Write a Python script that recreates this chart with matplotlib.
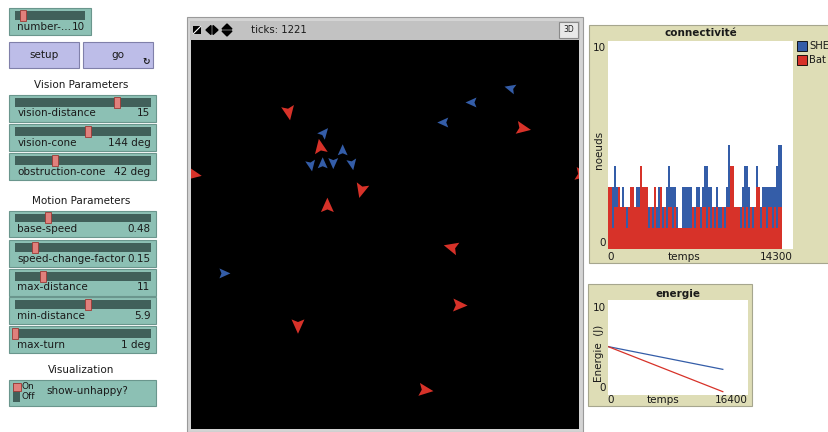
import numpy as np
import matplotlib
matplotlib.use("Agg")
import matplotlib.pyplot as plt
from matplotlib.patches import Rectangle, Polygon

W, H = 829, 432

# ---- interface values ----
number_name, number_value, number_min, number_max = "number-...", 10, 0, 90

slider_names = ["vision-distance", "vision-cone", "obstruction-cone",
                "base-speed", "speed-change-factor", "max-distance",
                "min-distance", "max-turn"]
slider_values = [15, 144, 42, 0.48, 0.15, 11, 5.9, 1]
slider_units = ["", " deg", " deg", "", "", "", "", " deg"]
slider_min = [0, 0, 0, 0, 0, 1, 0, 1]
slider_max = [20, 270, 144, 2, 1, 50, 11, 45]

ticks = 1221

# ---- connectivity plot (bar pens) ----
conn_interval = 155
conn_xmax, conn_ymax = 14300, 10
she_conn = [2, 2, 3, 4, 3, 2, 2, 3, 2, 2,
            2, 2, 2, 2, 3, 3, 2, 2, 2, 2,
            2, 2, 2, 3, 2, 3, 2, 2, 2, 3,
            4, 3, 3, 3, 2, 1, 1, 3, 3, 3,
            3, 3, 2, 2, 3, 3, 2, 3, 4, 4,
            3, 3, 2, 2, 3, 2, 2, 2, 2, 3,
            5, 4, 2, 2, 2, 2, 2, 3, 4, 4,
            3, 2, 2, 2, 4, 3, 2, 3, 3, 3,
            3, 3, 3, 3, 4, 5, 5]
bat_conn = [3, 3, 1, 2, 2, 3, 2, 2, 2, 1,
            2, 3, 3, 2, 2, 2, 4, 3, 3, 3,
            1, 2, 1, 3, 1, 1, 3, 1, 2, 1,
            2, 2, 1, 2, 1, 1, 1, 1, 1, 1,
            1, 1, 2, 1, 2, 2, 1, 2, 2, 1,
            2, 1, 2, 1, 2, 1, 1, 2, 1, 2,
            2, 4, 4, 2, 2, 2, 1, 2, 1, 2,
            1, 2, 1, 2, 3, 3, 1, 2, 2, 1,
            2, 2, 1, 2, 1, 2, 2]

# ---- energy plot ----
en_xmax, en_ymax = 16400, 10
en_time = [0, 13450]
she_energy = [5.1, 2.7]
bat_energy = [5.1, 0.35]

# ---- turtles (world coords, heading in degrees) ----
red_x = [-8.2, -5.5, -16.3, -2.0, -4.9, 11.7, 5.7, 6.3, -7.4, 3.4]
red_y = [10.4, 7.4, 5.1, 3.8, 2.4, 9.0, -1.1, -6.0, -7.7, -13.2]
red_heading = [170, 350, 100, 195, 0, 100, 285, 92, 180, 97]
blue_x = [-5.2, -3.6, -6.3, -5.3, -4.4, -2.8, 7.4, 10.7, 5.0, -13.7]
blue_y = [8.6, 7.1, 5.9, 6.0, 6.1, 6.0, 11.2, 12.4, 9.5, -3.3]
blue_heading = [40, 0, 170, 0, 180, 170, 270, 285, 270, 90]

RED = "#D73229"
BLUE = "#345DA8"
slider_bg, slider_edge = "#8CC0B4", "#6A968D"
track_c, handle_c, handle_edge = "#41605A", "#E0807C", "#9C3A36"
button_bg, button_edge = "#BDBDE8", "#8080AA"
plot_bg, plot_edge = "#DEDDB6", "#A6A68E"

fig = plt.figure(figsize=(W / 100, H / 100), dpi=100)
fig.patch.set_facecolor("white")
bg = fig.add_axes([0, 0, 1, 1])
bg.set_xlim(0, W)
bg.set_ylim(H, 0)
bg.axis("off")


def frac(x0, y0, x1, y1):
    return [x0 / W, 1 - y1 / H, (x1 - x0) / W, (y1 - y0) / H]


def box(x0, y0, x1, y1, fc, ec="none", lw=0.8, z=1):
    bg.add_patch(Rectangle((x0, y0), x1 - x0, y1 - y0, facecolor=fc,
                           edgecolor=ec, linewidth=lw, zorder=z))


def txt(x, y, s, ha="left", size=7.5, **kw):
    bg.text(x, y, s, ha=ha, va="center", fontsize=size, color="#1a1a1a", zorder=5, **kw)


def slider(y0, name, value, unit, vmin, vmax, x0=9.5, x1=156.5):
    box(x0, y0, x1, y0 + 26.5, slider_bg, ec=slider_edge)
    tx0, tx1 = x0 + 5.5, x1 - 5.5
    box(tx0, y0 + 2.8, tx1, y0 + 11.5, track_c)
    cx = tx0 + (value - vmin) / (vmax - vmin) * (tx1 - tx0)
    box(cx - 3, y0 + 1.5, cx + 3, y0 + 12.5, handle_c, ec=handle_edge, lw=0.6, z=2)
    txt(x0 + 7.8, y0 + 18.5, name)
    txt(x1 - 6, y0 + 18.5, f"{value:g}{unit}", ha="right")


# number slider
slider(8.3, number_name, number_value, "", number_min, number_max, x1=91)

# buttons
box(9.5, 41.7, 79, 68.3, button_bg, ec=button_edge)
txt(44, 55.5, "setup", ha="center")
box(83.3, 41.7, 153.3, 68.3, button_bg, ec=button_edge)
txt(118, 55.5, "go", ha="center")
txt(146, 62, "\u21bb", ha="center", size=6.5, weight="bold")

txt(81.5, 85, "Vision Parameters", ha="center")
for i, top in enumerate([95, 124.3, 153.3]):
    slider(top, slider_names[i], slider_values[i], slider_units[i],
           slider_min[i], slider_max[i])

txt(81.5, 200.7, "Motion Parameters", ha="center")
for i, top in zip(range(3, 8), [210.7, 240, 269, 297.3, 326]):
    slider(top, slider_names[i], slider_values[i], slider_units[i],
           slider_min[i], slider_max[i])

txt(81.5, 370, "Visualization", ha="center")
box(9.5, 380, 156.5, 406, slider_bg, ec=slider_edge)
box(13.5, 383, 20.5, 402, track_c)
box(12.8, 382.5, 21.2, 390.5, handle_c, ec=handle_edge, lw=0.6, z=2)
txt(22, 386.5, "On", size=6.5)
txt(22, 396.5, "Off", size=6.5)
txt(46, 390.5, "show-unhappy?")

# ---- world view ----
box(187, 17, 583, 432, "#D4D4D4", ec="#9A9A9A")
box(190, 20.5, 580, 40, "#C2C2C2")
box(193, 26, 201, 34, "black")
bg.plot([193.5, 200.5], [33.5, 26.5], color="white", lw=0.8, zorder=3)
bg.add_patch(Polygon([[211, 25.5], [211, 34.5], [206, 30]], color="black", zorder=3))
bg.add_patch(Polygon([[213, 25.5], [213, 34.5], [218, 30]], color="black", zorder=3))
bg.add_patch(Polygon([[222, 29], [232, 29], [227, 24]], color="black", zorder=3))
bg.add_patch(Polygon([[222, 31], [232, 31], [227, 36]], color="black", zorder=3))
txt(251, 30, f"ticks: {ticks}", size=7.3)
box(559, 22, 578, 38, "#E8E8E8", ec="#8A8A8A")
txt(568.5, 30, "3D", ha="center", size=5.5)

world = fig.add_axes(frac(191, 40, 579, 429))
world.set_facecolor("black")
world.set_xlim(-16.5, 16.5)
world.set_ylim(-16.5, 16.5)
world.set_xticks([])
world.set_yticks([])
for s in world.spines.values():
    s.set_visible(False)

arrow = np.array([[0, 0.483], [-0.367, -0.333], [0, -0.183], [0.367, -0.333]])


def draw_turtle(x, y, heading, size, color):
    h = np.radians(heading)
    rot = np.array([[np.cos(h), np.sin(h)], [-np.sin(h), np.cos(h)]])
    pts = arrow @ rot.T * size
    # world wraps, so draw the copies too
    for dx in (-33, 0, 33):
        for dy in (-33, 0, 33):
            world.add_patch(Polygon(pts + [x + dx, y + dy], closed=True,
                                    facecolor=color, edgecolor="none"))


for x, y, hd in zip(blue_x, blue_y, blue_heading):
    draw_turtle(x, y, hd, 1.15, BLUE)
for x, y, hd in zip(red_x, red_y, red_heading):
    draw_turtle(x, y, hd, 1.5, RED)

# ---- connectivity plot ----
box(589, 25, 845, 263, plot_bg, ec=plot_edge)
txt(700.5, 33.5, "connectivit\u00e9", ha="center", weight="bold")
txt(606, 48, f"{conn_ymax:g}", ha="right")
txt(606, 243, "0", ha="right")
txt(599, 150, "noeuds", ha="center", rotation=90)
txt(607, 256.5, "0")
txt(793, 256.5, f"{conn_xmax:g}", ha="right")
txt(684, 256.5, "temps", ha="center")
box(797, 41, 807, 51, BLUE, ec="black", lw=0.6)
txt(809, 46, "SHE", size=7.2)
box(797, 55, 807, 65, RED, ec="black", lw=0.6)
txt(809, 60, "Bat", size=7.2)

conn = fig.add_axes(frac(608, 41, 793, 249))
edges = np.arange(len(she_conn) + 1) * conn_interval
conn.stairs(she_conn, edges, fill=True, color=BLUE, baseline=0)
conn.stairs(bat_conn, edges, fill=True, color=RED, baseline=0)
conn.set_xlim(0, conn_xmax)
conn.set_ylim(0, conn_ymax)
conn.set_xticks([])
conn.set_yticks([])
for s in conn.spines.values():
    s.set_visible(False)

# ---- energy plot ----
box(588, 284, 752, 406, plot_bg, ec=plot_edge)
txt(678, 294, "energie", ha="center", weight="bold")
txt(606, 308, f"{en_ymax:g}", ha="right")
txt(606, 388, "0", ha="right")
txt(599, 353, "Energie  (J)", ha="center", rotation=90)
txt(607, 400, "0")
txt(748, 400, f"{en_xmax:g}", ha="right")
txt(663, 400, "temps", ha="center")

en = fig.add_axes(frac(608, 300, 748, 395))
en.plot(en_time, she_energy, color=BLUE, lw=0.9)
en.plot(en_time, bat_energy, color=RED, lw=0.9)
en.set_xlim(0, en_xmax)
en.set_ylim(0, en_ymax)
en.set_xticks([])
en.set_yticks([])
for s in en.spines.values():
    s.set_visible(False)

fig.savefig("out.png", dpi=100)
